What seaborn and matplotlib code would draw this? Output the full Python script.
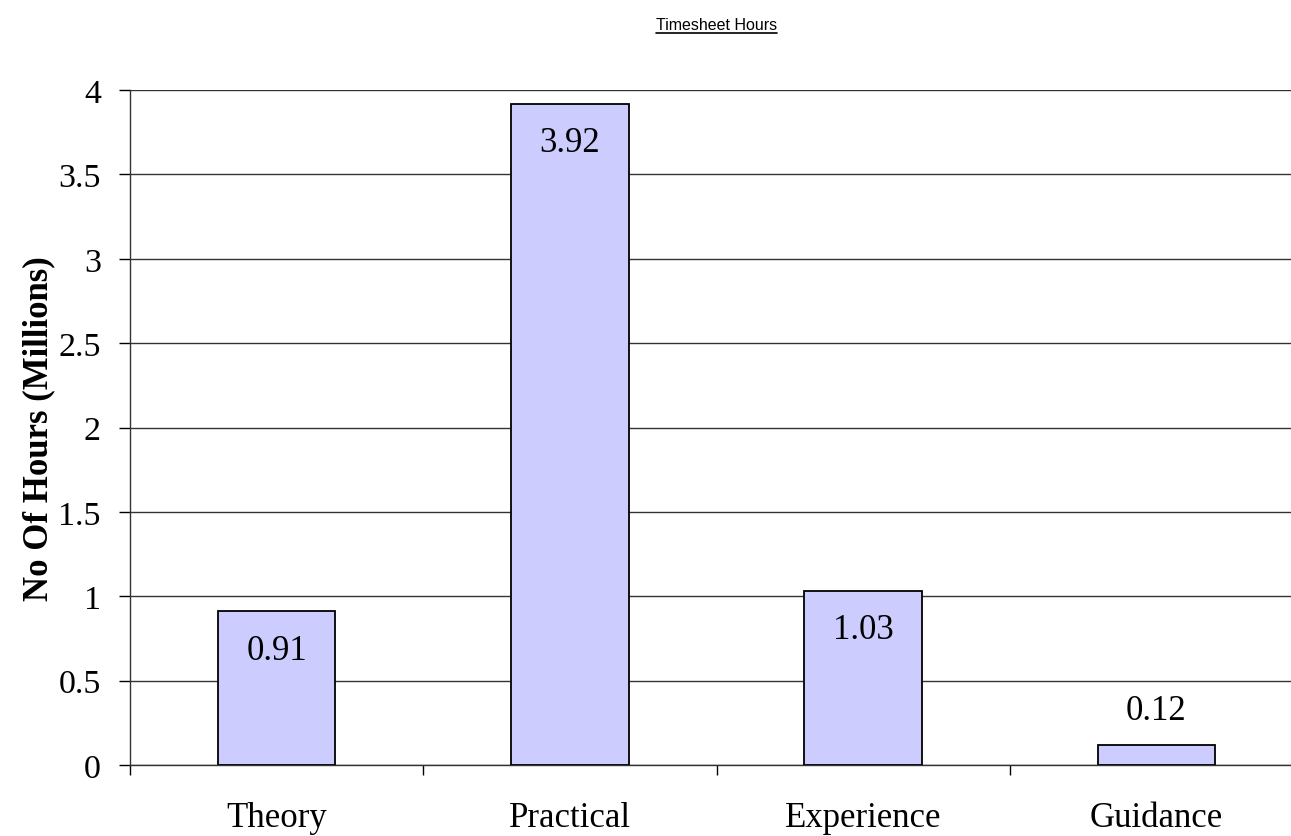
import matplotlib
matplotlib.use("Agg")
import matplotlib.pyplot as plt
import seaborn as sns
import pandas as pd
from matplotlib.ticker import FixedLocator
from matplotlib import font_manager

categories = ["Theory", "Practical", "Experience", "Guidance"]
values = [0.91, 3.92, 1.03, 0.12]
value_labels = ["0.91", "3.92", "1.03", "0.12"]
yticks = [0, 0.5, 1, 1.5, 2, 2.5, 3, 3.5, 4]
ytick_labels = ["0", "0.5", "1", "1.5", "2", "2.5", "3", "3.5", "4"]

sns.set_theme(style="white")
plt.rcParams["font.family"] = ["Liberation Serif", "DejaVu Serif"]
plt.rcParams["text.color"] = "black"
plt.rcParams["xtick.color"] = "black"
plt.rcParams["ytick.color"] = "black"
plt.rcParams["axes.labelcolor"] = "black"

names = {f.name for f in font_manager.fontManager.ttflist}
title_family = ["Liberation Sans Narrow"] if "Liberation Sans Narrow" in names else ["Liberation Sans"]
title_size = 12.5 if "Liberation Sans Narrow" in names else 11.5

df = pd.DataFrame({"cat": categories, "val": values})

fig = plt.figure(figsize=(12.91, 8.37), dpi=100)
W, H = 1291, 837
ax = fig.add_axes([130 / W, (H - 766) / H, 1173 / W, 675 / H])

sns.barplot(data=df, x="cat", y="val", color="#CCCCFF", edgecolor="black",
            linewidth=1.3, width=0.4, saturation=1, ax=ax, zorder=3)

ax.set_xlim(-0.5, 3.5)
ax.set_ylim(0, 4)
ax.set_yticks(yticks)
ax.set_yticklabels(ytick_labels, fontsize=24.5)
ax.yaxis.grid(True, color="#333333", linewidth=1.0, zorder=0)
ax.set_axisbelow(True)

ax.set_xticks(range(len(categories)))
ax.set_xticklabels(categories, fontsize=25)
ax.tick_params(axis="x", which="major", length=0, pad=26)
ax.xaxis.set_minor_locator(FixedLocator([-0.5, 0.5, 1.5, 2.5, 3.5]))
ax.tick_params(axis="x", which="minor", bottom=True, length=7, width=1, color="black", direction="out")
ax.tick_params(axis="y", left=True, length=8, width=1, color="black", direction="out", pad=13)

for s in ["top", "right"]:
    ax.spines[s].set_visible(False)
for s in ["left", "bottom"]:
    ax.spines[s].set_color("#333333")
    ax.spines[s].set_linewidth(1.0)

ax.set_xlabel("")
ax.set_ylabel("No Of Hours (Millions)", fontsize=25, fontweight="bold", labelpad=2)

for i, (v, lab) in enumerate(zip(values, value_labels)):
    if v > 0.5:
        ax.annotate(lab, (i, v), xytext=(0, -16), textcoords="offset points",
                    ha="center", va="top", fontsize=25, zorder=5)
    else:
        ax.annotate(lab, (i, v), xytext=(0, 13), textcoords="offset points",
                    ha="center", va="bottom", fontsize=25, zorder=5)

t = fig.text((130 + 1303) / 2 / W, 1 - 25 / H, "Timesheet Hours", ha="center", va="center",
             fontsize=title_size, family=title_family + ["DejaVu Sans"], color="black")
fig.canvas.draw()
bb = t.get_window_extent()
fig.add_artist(plt.Line2D([bb.x0 / W, bb.x1 / W], [(bb.y0 - 1) / H, (bb.y0 - 1) / H],
                          transform=fig.transFigure, color="black", linewidth=1.2))

fig.savefig("out.png", dpi=100)
